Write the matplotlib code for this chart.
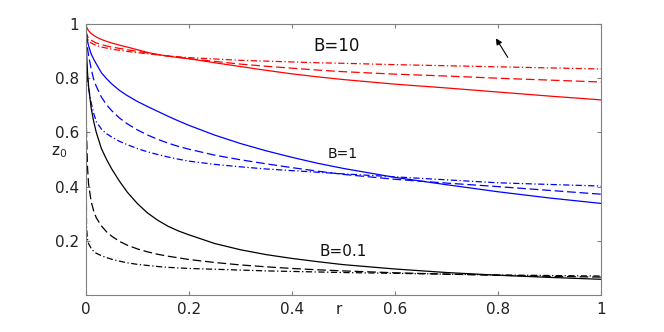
import matplotlib
matplotlib.use("Agg")
import matplotlib.pyplot as plt

plt.rcParams['font.family'] = ['DejaVu Sans']
plt.rcParams['mathtext.default'] = 'regular'

# ---- data ----
r = [0, 0.001, 0.003, 0.005, 0.01, 0.015, 0.02, 0.03, 0.04, 0.05, 0.065, 0.08,
     0.1, 0.12, 0.14, 0.16, 0.18, 0.2, 0.25, 0.3, 0.35, 0.4, 0.45, 0.5, 0.6,
     0.7, 0.8, 0.9, 1.0]

red_solid = [1.0, 0.99, 0.981, 0.975, 0.965, 0.958, 0.952, 0.943, 0.936, 0.93,
             0.922, 0.915, 0.905, 0.895, 0.887, 0.881, 0.876, 0.872, 0.857,
             0.843, 0.829, 0.816, 0.805, 0.795, 0.778, 0.764, 0.749, 0.734, 0.72]
red_dashed = [0.98, 0.965, 0.955, 0.948, 0.94, 0.935, 0.93, 0.924, 0.919, 0.915,
              0.91, 0.905, 0.899, 0.893, 0.887, 0.882, 0.877, 0.872, 0.862,
              0.852, 0.844, 0.837, 0.83, 0.824, 0.815, 0.808, 0.800, 0.793, 0.786]
red_dashdot = [0.975, 0.96, 0.945, 0.938, 0.93, 0.925, 0.921, 0.915, 0.911,
               0.907, 0.903, 0.899, 0.894, 0.89, 0.886, 0.882, 0.879, 0.876,
               0.871, 0.866, 0.863, 0.86, 0.857, 0.855, 0.85, 0.846, 0.842,
               0.838, 0.834]

blue_solid = [1.0, 0.965, 0.938, 0.92, 0.89, 0.87, 0.853, 0.82, 0.798, 0.779,
              0.755, 0.736, 0.714, 0.695, 0.677, 0.659, 0.642, 0.626, 0.59,
              0.559, 0.532, 0.508, 0.486, 0.467, 0.434, 0.407, 0.381, 0.358, 0.338]
blue_dashed = [0.96, 0.94, 0.91, 0.885, 0.835, 0.795, 0.77, 0.73, 0.702, 0.68,
               0.653, 0.632, 0.609, 0.59, 0.574, 0.56, 0.548, 0.538, 0.516,
               0.499, 0.484, 0.47, 0.457, 0.445, 0.427, 0.413, 0.4, 0.386, 0.372]
blue_dashdot = [0.90, 0.85, 0.80, 0.765, 0.71, 0.67, 0.64, 0.612, 0.595, 0.583,
                0.567, 0.555, 0.54, 0.528, 0.518, 0.509, 0.501, 0.494, 0.482,
                0.473, 0.465, 0.459, 0.453, 0.447, 0.436, 0.425, 0.414, 0.408,
                0.402]

black_solid = [1.0, 0.90, 0.82, 0.77, 0.69, 0.64, 0.60, 0.54, 0.50, 0.465, 0.42,
               0.38, 0.337, 0.302, 0.275, 0.253, 0.236, 0.222, 0.19, 0.167,
               0.149, 0.135, 0.123, 0.112, 0.096, 0.083, 0.073, 0.065, 0.058]
black_dashed = [0.80, 0.60, 0.47, 0.41, 0.345, 0.31, 0.285, 0.255, 0.233, 0.217,
                0.198, 0.184, 0.17, 0.159, 0.15, 0.143, 0.137, 0.131, 0.12,
                0.111, 0.104, 0.098, 0.093, 0.089, 0.082, 0.077, 0.073, 0.069,
                0.066]
black_dashdot = [0.70, 0.25, 0.205, 0.19, 0.172, 0.161, 0.154, 0.145, 0.138,
                 0.132, 0.125, 0.119, 0.113, 0.109, 0.105, 0.102, 0.1, 0.098,
                 0.095, 0.092, 0.089, 0.087, 0.085, 0.083, 0.08, 0.077, 0.074,
                 0.072, 0.07]

xticks = [0, 0.2, 0.4, 0.6, 0.8, 1]
xticklabels = ['0', '0.2', '0.4', '0.6', '0.8', '1']
yticks = [0.2, 0.4, 0.6, 0.8, 1]
yticklabels = ['0.2', '0.4', '0.6', '0.8', '1']

labels = ['B=10', 'B=1', 'B=0.1']
label_pos = [(0.441, 0.919), (0.470, 0.520), (0.454, 0.159)]
label_size = [12, 10, 11]

# ---- figure ----
fig = plt.figure(figsize=(6.64, 3.32), dpi=100)
ax = fig.add_axes([0.1295, 0.1114, 0.7756, 0.8163])

lw = 0.9
dash = (0, (7, 3))
dashdot = (0, (5, 2, 1, 2))

for color, (s, d, dd) in [('#ff0000', (red_solid, red_dashed, red_dashdot)),
                          ('#0000ff', (blue_solid, blue_dashed, blue_dashdot)),
                          ('#000000', (black_solid, black_dashed, black_dashdot))]:
    ax.plot(r, s, color=color, lw=lw, linestyle='-')
    ax.plot(r, d, color=color, lw=lw, linestyle=dash)
    ax.plot(r, dd, color=color, lw=lw, linestyle=dashdot)

ax.set_xlim(0, 1)
ax.set_ylim(0, 1)
ax.set_xticks(xticks)
ax.set_xticklabels(xticklabels)
ax.set_yticks(yticks)
ax.set_yticklabels(yticklabels)

spine_col = '#808080'
for sp in ax.spines.values():
    sp.set_color(spine_col)
    sp.set_linewidth(0.8)
ax.tick_params(direction='in', length=3, width=0.8, color=spine_col,
               labelsize=11, labelcolor='#222222', top=True, right=True)
ax.tick_params(axis='x', pad=5)
ax.tick_params(axis='y', pad=5)

for txt, (x, y), fs in zip(labels, label_pos, label_size):
    ax.text(x, y, txt, fontsize=fs, color='#111111', ha='left', va='center',
            transform=ax.transAxes)

# axis labels
ax.text(0.491, -0.052, 'r', fontsize=11, color='#222222', ha='center',
        va='center', transform=ax.transAxes)
ax.set_ylabel('z$_0$', rotation=0, fontsize=11, color='#222222')
ax.yaxis.set_label_coords(-0.0515, 0.50)

# pointer arrow seen in the picture
ax.annotate('', xy=(0.796, 0.947), xytext=(0.819, 0.877),
            arrowprops=dict(arrowstyle='-|>', color='black', lw=0.8,
                            mutation_scale=9, shrinkA=0, shrinkB=0))

fig.savefig('out.png', dpi=100)
